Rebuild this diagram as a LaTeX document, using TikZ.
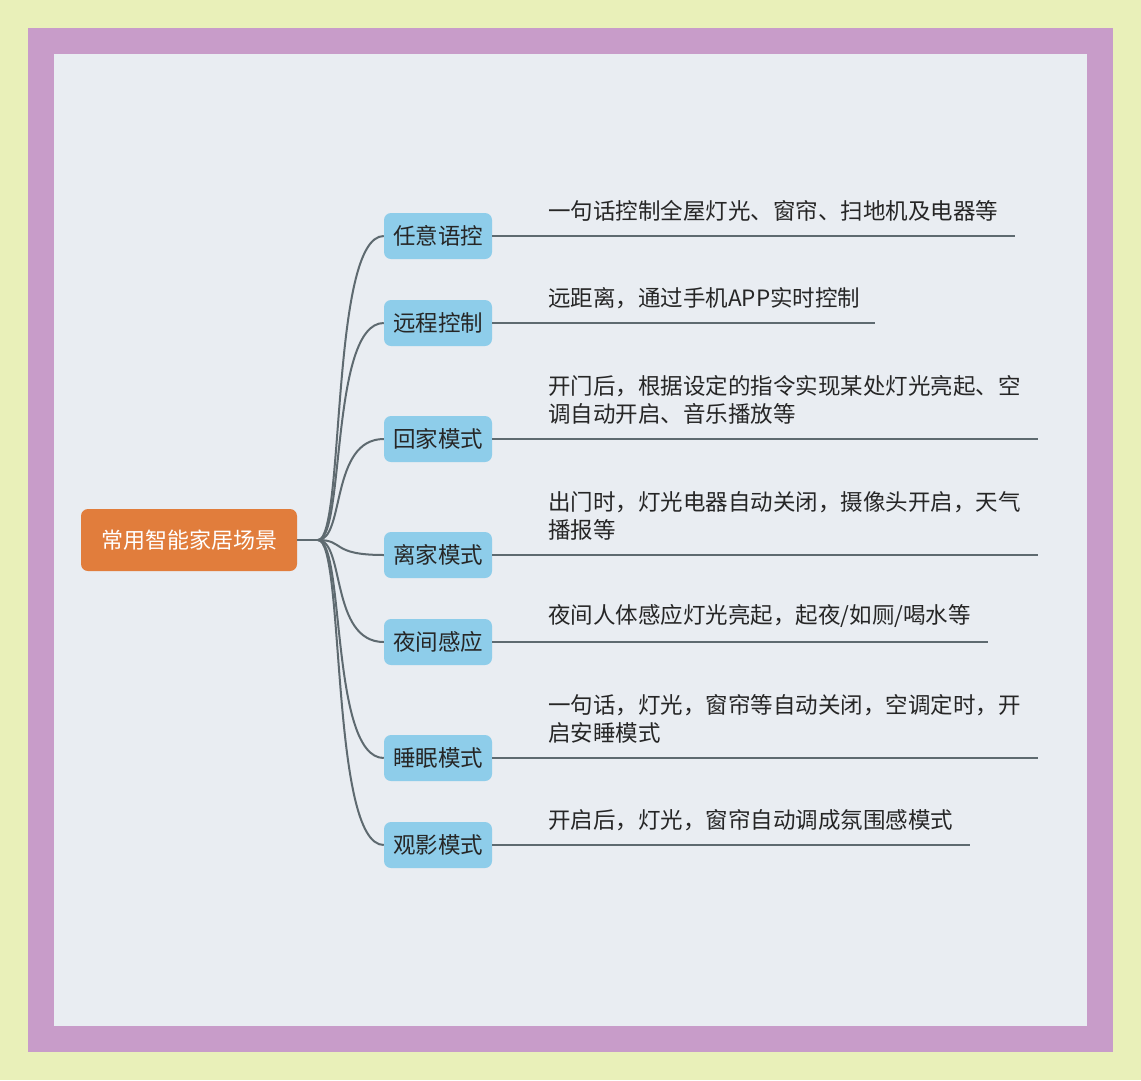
\documentclass[tikz,border=0pt]{standalone}
\usepackage{fontspec}
\newfontfamily\cjk{Noto Sans CJK SC}
\definecolor{bgY}{HTML}{E9F0B9}
\definecolor{frameP}{HTML}{C89CC9}
\definecolor{panel}{HTML}{E9EDF2}
\definecolor{rootO}{HTML}{E17D3C}
\definecolor{kidB}{HTML}{8ECDEA}
\definecolor{lineG}{HTML}{5E6A70}
\tikzset{
 rootbox/.style={fill=rootO,rounded corners=7pt,minimum width=216pt,minimum height=62pt,text=white,font=\cjk\fontsize{22}{26}\selectfont},
 kidbox/.style={fill=kidB,rounded corners=7pt,minimum width=108pt,minimum height=46pt,text=black!85,font=\cjk\fontsize{22.5}{26}\selectfont,inner sep=1pt},
 leaf/.style={anchor=south west,align=left,text=black!85,font=\cjk\fontsize{22.5}{28}\selectfont,inner sep=0pt},
 conn/.style={draw=lineG,line width=2pt}
}
\begin{document}
\begin{tikzpicture}[x=1pt,y=-1pt]
\fill[bgY] (0,0) rectangle (1141,1080);
\fill[frameP] (28,28) rectangle (1113,1052);
\fill[panel] (54,54) rectangle (1087,1026);
\node[rootbox] (r) at (189,540) {常用智能家居场景};
\coordinate (rr) at (318,540);
\draw[conn] (r.east) -- (rr);
\foreach \n/\y/\e/\lab/\txt in {
 a/236/1015/任意语控/{一句话控制全屋灯光、窗帘、扫地机及电器等},
 b/323/875/远程控制/{远距离，通过手机APP实时控制},
 c/439/1038/回家模式/{开门后，根据设定的指令实现某处灯光亮起、空\\调自动开启、音乐播放等},
 d/555/1038/离家模式/{出门时，灯光电器自动关闭，摄像头开启，天气\\播报等},
 e/642/988/夜间感应/{夜间人体感应灯光亮起，起夜/如厕/喝水等},
 f/758/1038/睡眠模式/{一句话，灯光，窗帘等自动关闭，空调定时，开\\启安睡模式},
 g/845/970/观影模式/{开启后，灯光，窗帘自动调成氛围感模式}}{
 \node[kidbox] (\n) at (438,\y) {\lab};
 \coordinate (\n e) at (\e,\y);
 \draw[conn] (\n.east) -- (\n e);
 \node[leaf] (\n t) at (548,\y-14) {\txt};
 \draw[conn] (rr) .. controls (345,540) and (330,\y) .. (\n.west);
}
\end{tikzpicture}
\end{document}
